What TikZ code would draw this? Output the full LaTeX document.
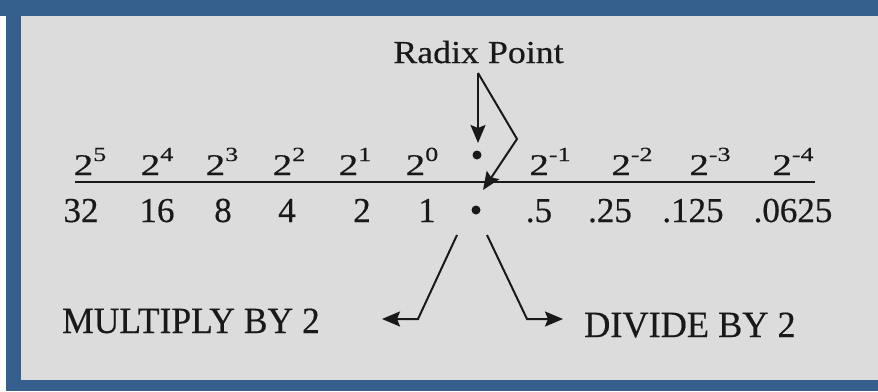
\documentclass[tikz,border=0pt]{standalone}
\usepackage{fontspec}
\setmainfont{Liberation Serif}
\newfontfamily\heavyserif{Liberation Serif}[FakeBold=0.4]
\usetikzlibrary{arrows.meta}
\definecolor{frameblue}{RGB}{53,95,140}
\definecolor{panel}{RGB}{220,220,220}
\definecolor{ink}{RGB}{25,25,25}
\newcommand{\pwr}[1]{\scalebox{1.3}[1]{2\raisebox{14pt}{\fontsize{20}{20}\selectfont #1}}}
\begin{document}
\begin{tikzpicture}[x=1pt,y=-1pt,
  powlbl/.style={anchor=base, inner sep=0pt, text=ink, font=\heavyserif\fontsize{30}{32}\selectfont},
  vallbl/.style={anchor=base, inner sep=0pt, text=ink, font=\heavyserif\fontsize{35}{38}\selectfont},
  caplbl/.style={inner sep=0pt, text=ink, font=\heavyserif\fontsize{37}{40}\selectfont},
  dotnode/.style={circle, fill=ink, inner sep=0pt, minimum size=9pt},
  conn/.style={draw=ink, line width=2pt},
  arr/.style={conn, -{Stealth[length=18pt,width=15pt,inset=3pt]}},
  rule/.style={draw=ink, line width=2.5pt}]
\useasboundingbox (0,0) rectangle (878,391);
% frame
\fill[frameblue] (0,0) rectangle (878,391);
\fill[white] (0,16) rectangle (6,391);
\fill[panel] (21,16) rectangle (878,380);
% title
\node[caplbl, anchor=base] (radix) at (478.5,63) {\fontsize{32}{34}\selectfont\scalebox{1.12}[1]{Radix Point}};
% powers
\node[powlbl] (p5) at (90,175) {\pwr{5}};
\node[powlbl] (p4) at (157,175) {\pwr{4}};
\node[powlbl] (p3) at (222,175) {\pwr{3}};
\node[powlbl] (p2) at (289,175) {\pwr{2}};
\node[powlbl] (p1) at (355,175) {\pwr{1}};
\node[powlbl] (p0) at (422,175) {\pwr{0}};
\node[powlbl] (m1) at (550,175) {\pwr{-1}};
\node[powlbl] (m2) at (632,175) {\pwr{-2}};
\node[powlbl] (m3) at (710,175) {\pwr{-3}};
\node[powlbl] (m4) at (793,175) {\pwr{-4}};
% rule
\coordinate (ruleL) at (75,182);
\coordinate (ruleR) at (815,182);
\draw[rule] (ruleL) -- (ruleR);
% values
\node[vallbl] (v32) at (81,222) {32};
\node[vallbl] (v16) at (157,222) {16};
\node[vallbl] (v8) at (223,222) {8};
\node[vallbl] (v4) at (287,222) {4};
\node[vallbl] (v2) at (362,222) {2};
\node[vallbl] (v1) at (427,222) {1};
\node[vallbl] (vh) at (539,222) {.5};
\node[vallbl] (vq) at (610,222) {.25};
\node[vallbl] (ve) at (693,222) {.125};
\node[vallbl] (vs) at (793,222) {.0625};
% radix dots
\node[dotnode] (dtop) at (477,155) {};
\node[dotnode] (dbot) at (476,210) {};
% radix arrows
\coordinate (rstart) at (478,73);
\coordinate (rtip1) at (478,143);
\coordinate (rbend) at (517,139);
\coordinate (rtip2) at (483,190);
\draw[arr] (rstart) -- (rtip1);
\draw[arr] (rstart) -- (rbend) -- (rtip2);
% multiply / divide
\coordinate (ls) at (457,235);
\coordinate (lb) at (418,319);
\coordinate (lt) at (382,319);
\coordinate (rs) at (487,235);
\coordinate (rb) at (527,319);
\coordinate (rt) at (563,319);
\draw[arr] (ls) -- (lb) -- (lt);
\draw[arr] (rs) -- (rb) -- (rt);
\node[caplbl, anchor=base west] (mul) at (62,333) {\scalebox{0.96}[1]{MULTIPLY BY 2}};
\node[caplbl, anchor=base west] (div) at (584,337) {\scalebox{0.98}[1]{DIVIDE BY 2}};
\end{tikzpicture}
\end{document}
